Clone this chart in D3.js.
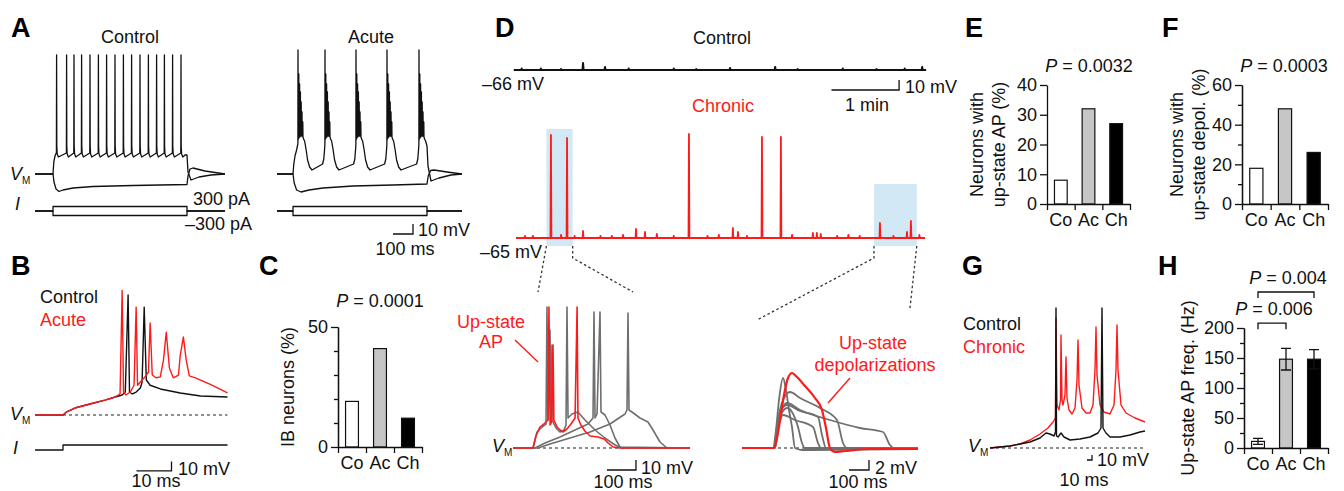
<!DOCTYPE html>
<html>
<head>
<meta charset="utf-8">
<script src="https://cdn.jsdelivr.net/npm/d3@7"></script>
<style>
  body { margin: 0; background: #fff; }
  svg { display: block; font-family: "Liberation Sans", Arial, sans-serif; }
</style>
</head>
<body>
<svg id="fig" width="1344" height="491"></svg>
<script>
// colours
const RED = '#ff1a1a'
const TRACE_GRAY = '#6f6f6f'
const BAR_GRAY = '#c6c6c6'
const ZOOM_BLUE = '#d3e8f5'

// ---------- data ----------
// A: step protocol (ms) and currents (pA)
const aStep = [0, 670]
const aCurrents = [300, -300]
// A control: spike times (ms) and spike waveform (ms offset, mV)
const aCtrlSpikes = [18, 68, 105, 143, 185, 227, 268, 310, 352, 393, 435, 477, 518, 557, 598, 640]
const aSpikeShape = [[-1, -49], [0, 49], [1, -42], [3, -50], [9, -53]]
const aCtrlOnset = [[-90, -70], [0, -70], [4, -58], [10, -52], [16, -49]]
const aCtrlOffset = [[660, -51], [670, -51], [675, -68], [690, -76], [730, -73], [790, -71], [860, -70]]
const aCtrlHyper = [[-90, -70], [0, -70], [5, -78], [15, -85], [30, -87.5], [50, -86], [100, -84], [200, -82.5], [400, -81.5], [670, -80.5], [675, -72], [685, -65], [700, -64], [760, -67], [860, -70]]
// A acute: burst onsets (ms) and burst waveform
const aAcuteBursts = [25, 160, 315, 470, 630]
const aBurstShape = [[-12, -60], [-6, -55], [-2, -45], [-0.5, -40], [0, 54], [1, -36], [4, 30], [5, -34], [8, 20], [9, -33],
  [12, 12], [13, -32], [16, 2], [17, -32], [20, -8], [21, -32], [24, -18], [25, -33], [28, -35], [33, -37], [40, -45],
  [48, -56], [58, -63], [70, -66]]
const aAcuteOnset = [[-80, -70], [0, -70], [4, -60], [10, -52], [18, -46], [23, -41]]
const aAcuteOffset = [[670, -42], [675, -62], [690, -77], [730, -74], [790, -71], [845, -70]]
const aAcuteHyper = [[-80, -70], [0, -70], [6, -79], [18, -86], [40, -88], [80, -86], [150, -84], [300, -82], [500, -81], [670, -80], [676, -72], [688, -66.5], [705, -66], [770, -68], [845, -70]]

// B: first spikes (ms, mV above rest)
const bAcute = [[-8, 0], [0, 0], [0.9, 3], [3.4, 7.5], [7.7, 11.8], [12, 16], [14.9, 19.4], [16.3, 22.6], [16.9, 134], [17.3, 24.7],
  [18, 21.5], [19.2, 24.7], [20.3, 32], [20.9, 116], [21.3, 32], [22.1, 35.5], [23.2, 40], [24.4, 46], [24.9, 99], [25.5, 43],
  [26.6, 40], [27.8, 41], [28.7, 59], [29.5, 89], [30.4, 50.5], [31.5, 40], [33, 43], [33.5, 64.5], [34.4, 84], [35.2, 59],
  [36.1, 42], [37.8, 40], [42.1, 33], [47, 23.7]]
const bControl = [[-8, 0], [0, 0], [0.9, 3], [3.4, 7.5], [7.7, 11.8], [12, 16], [14.9, 19.4], [16.9, 21.5], [17.8, 24.7], [18.6, 129],
  [19, 24.7], [19.8, 22.6], [20.9, 24.7], [22.1, 29], [22.6, 35.5], [23.2, 116], [23.8, 37.6], [24.9, 32], [27.8, 28], [33.5, 23.7],
  [39.3, 20.4], [47, 19.4]]
const bCurrent = [[-8, 0], [0, 0], [0, 200], [47, 200]]

// C, E, F, H bar data
const cats = ['Co', 'Ac', 'Ch']
const barFills = ['#fff', BAR_GRAY, '#000']
const ibNeurons = [19, 41, 12]
const upStateAP = [8, 32, 27]
const upStateDepol = [18, 48, 26]
const upStateFreq = [11, 148, 148]
const upStateFreqErr = [5, 18, 16]

// D: long recordings (s, mV above baseline)
const dCtrlEvents = [[5, 1.5], [22, 1.5], [40, 1], [59.5, 7], [79, 3], [100, 1.5], [140, 1.5], [160, 1], [190, 2], [230, 3], [250, 1], [290, 1.5], [320, 1], [345, 1.5], [360.5, 3]]
const dChronicSpikes = [[31, 103], [45.3, 100], [153.5, 104], [218.3, 101], [235.1, 101]]
const dChronicSmall = [[8, 2], [15, 2], [40, 3], [52, 2], [59.5, 7], [75, 2], [85, 2], [95, 3], [106.5, 9], [114.5, 6], [125, 4],
  [140, 2], [170, 2], [180, 3], [192.5, 10], [197, 6], [205, 2], [245, 3], [263.5, 5], [267, 5], [270.5, 4], [285, 2], [295, 3],
  [305, 2], [323, 15], [335, 2], [347, 6], [350.5, 17], [358, 3]]
const dZoomWindows = [[27, 50.3, 109], [317.7, 355.7, 54]]

// D insets: up-state APs (ms, mV)
const upApRed = [[0, 0], [69, 0], [79, 12], [93, 21], [110, 25], [121, 28], [124, 141], [128, 23], [133, 26], [138, 103], [141, 28],
  [152, 21], [162, 18], [172, 16], [186, 19], [200, 24], [214, 30], [221, 141], [224, 30], [234, 23], [248, 17], [266, 12],
  [293, 11], [314, 9], [328, 5], [345, 1], [369, 0], [610, 0]]
const upApGray = [
  [[0, 0], [69, 0], [82.8, 16], [100, 21], [113.8, 24], [117.2, 141], [120.7, 28], [127.6, 118], [131, 26], [134.5, 103], [137.9, 26],
    [148.3, 20], [162, 16], [175.9, 18], [182.8, 23], [186.2, 141], [189.7, 30], [203.4, 34], [224, 36], [248.3, 28], [282.8, 18],
    [317, 10], [351.7, 3], [375.9, 0], [610, 0]],
  [[0, 0], [75.9, 0], [110.3, 5], [162, 11], [213.8, 18], [258.6, 24], [275.9, 30], [279.3, 136], [282.8, 30], [289.7, 34], [300, 136],
    [303.4, 36], [317.2, 33], [334.5, 23], [351.7, 10], [369, 1], [610, 0]],
  [[0, 0], [86.2, 0], [127.6, 4], [196.6, 10], [265.5, 16], [334.5, 24], [386.2, 34], [393.1, 38], [396.6, 135], [400, 38], [410.3, 36],
    [437.9, 30], [465.5, 26], [482.8, 18], [506.9, 6], [531, 0], [610, 0]]
]
// D insets: up-state depolarizations (ms, mV)
const upDepRed = [[0, 0], [160, 0], [175, 2], [190, 5.6], [210, 10.6], [230, 14], [250, 15], [270, 14.4], [315, 12.4], [365, 10],
  [400, 7.6], [420, 4], [440, 0], [465, -0.8], [515, -0.6], [640, -0.2], [880, -0.2]]
const upDepGray = [
  [[0, 0], [155, 0], [170, 3.6], [185, 9.6], [205, 14], [220, 11.6], [235, 7.6], [250, 4.2], [265, 0], [300, -0.4], [880, -0.2]],
  [[0, 0], [160, 0], [180, 5.6], [205, 9.6], [240, 11.2], [290, 10], [390, 8], [475, 5.6], [505, 1], [525, 0], [880, 0]],
  [[0, 0], [160, 0], [180, 5.6], [205, 8.2], [225, 9], [290, 7.6], [440, 5.6], [590, 4], [705, 3.2], [740, 0.6], [760, 0], [880, 0]],
  [[0, 0], [160, 0], [180, 6], [205, 8.2], [225, 8.6], [290, 7.4], [380, 6.2], [400, 2.6], [420, 0], [880, 0]],
  [[0, 0], [165, 0], [185, 4.6], [205, 6.6], [265, 5.6], [355, 4.2], [380, 1], [395, 0], [880, 0]],
  [[0, 0], [165, 0], [185, 5.6], [225, 8], [250, 7.2], [280, 4.2], [300, 1], [315, 0], [880, 0]]
]

// G: control vs chronic (ms, mV)
const gControl = [[0, 0], [20, 2], [40, 4], [60, 8], [80, 12], [100, 20], [112, 30], [120, 28], [128, 24], [131, 32], [132, 280], [133, 24],
  [136, 22], [142, 30], [148, 22], [160, 16], [180, 18], [200, 22], [216, 30], [222, 40], [224, 280], [226, 40], [232, 30], [240, 22],
  [260, 22], [280, 26], [300, 32], [310, 34]]
const gChronic = [[0, 0], [20, 2], [40, 4], [60, 8], [80, 16], [100, 28], [116, 40], [126, 52], [131, 60], [132, 260], [134, 86], [138, 76],
  [141, 96], [142, 226], [144, 96], [146, 86], [150, 106], [152, 182], [154, 100], [158, 76], [164, 68], [170, 80], [174, 136], [176, 216],
  [178, 126], [184, 80], [192, 70], [200, 70], [206, 86], [210, 156], [212, 242], [214, 146], [220, 86], [228, 72], [240, 68], [248, 86],
  [252, 156], [254, 246], [256, 156], [262, 86], [272, 70], [290, 60], [310, 52]]

// ---------- helpers ----------
const svg = d3.select('#fig')
svg.append('rect').attr('width', 1344).attr('height', 491).attr('fill', '#fff')

function trace(pts, x, y, color, w = 1.3, dash = null, curve = d3.curveLinear) {
  const p = svg.append('path')
    .datum(pts)
    .attr('d', d3.line().x(d => x(d[0])).y(d => y(d[1])).curve(curve))
    .attr('fill', 'none')
    .attr('stroke', color)
    .attr('stroke-width', w)
    .attr('stroke-linejoin', 'round')
  if (dash) p.attr('stroke-dasharray', dash)
  return p
}

function txt(x, y, s, opt = {}) {
  return svg.append('text')
    .attr('x', x).attr('y', y)
    .attr('font-size', opt.size || 18)
    .attr('fill', opt.fill || '#111')
    .attr('text-anchor', opt.anchor || 'start')
    .attr('font-weight', opt.weight || 'normal')
    .text(s)
}

function pText(x, y, val) {
  const t = svg.append('text').attr('x', x).attr('y', y).attr('font-size', 18).attr('fill', '#111').attr('text-anchor', 'middle')
  t.append('tspan').attr('font-style', 'italic').text('P')
  t.append('tspan').text(' = ' + val)
}

function vmLabel(x, y) {
  const t = svg.append('text').attr('x', x).attr('y', y).attr('font-size', 18).attr('fill', '#111')
  t.append('tspan').attr('font-style', 'italic').text('V')
  t.append('tspan').attr('font-size', 10).attr('dy', 4).text('M')
}

// scale bar: corner at (t, v), horizontal length dt, vertical length dv
function scaleBar(x, y, t, v, dt, dv) {
  svg.append('path')
    .attr('d', `M${x(t - dt)},${y(v)}H${x(t)}V${y(v + dv)}`)
    .attr('fill', 'none').attr('stroke', '#111').attr('stroke-width', 1.3)
}

// splice a repeated waveform into a trace
function spikeTrain(onset, times, shape, stopT, offset) {
  const pts = onset.slice()
  times.forEach(ts => shape.forEach(([dt, v]) => {
    const t = ts + dt
    if (t > pts[pts.length - 1][0] && t < stopT) pts.push([t, v])
  }))
  offset.forEach(p => { if (p[0] > pts[pts.length - 1][0]) pts.push(p) })
  return pts
}

// brief events on a flat baseline
function eventTrace(t0, t1, events, halfWidth) {
  const pts = [[t0, 0]]
  events.slice().sort((a, b) => a[0] - b[0]).forEach(([t, a]) => {
    pts.push([t - halfWidth, 0], [t, a], [t + halfWidth, 0])
  })
  pts.push([t1, 0])
  return pts
}

function stepTrace(t0, t1, on, off, amp) {
  return [[t0, 0], [on, 0], [on, amp], [off, amp], [off, 0], [t1, 0]]
}

function styleAxis(g) {
  g.selectAll('.domain, line').attr('stroke', '#111').attr('stroke-width', 1.3)
  g.selectAll('text').attr('font-size', 18).attr('fill', '#111').attr('font-family', '"Liberation Sans", Arial, sans-serif')
}

function barPanel(o) {
  const y = d3.scaleLinear().domain([0, o.max]).range([o.y0, o.y1])
  const x = d3.scaleBand().domain(cats).range([o.x0, o.x0 + o.w]).paddingInner(0.54).paddingOuter(0.27)
  const edges = d3.scaleLinear().domain([0, 3]).range([o.x0, o.x0 + o.w])

  svg.selectAll(null).data(cats).enter().append('rect')
    .attr('x', d => x(d))
    .attr('y', (d, i) => y(o.values[i]))
    .attr('width', x.bandwidth())
    .attr('height', (d, i) => y(0) - y(o.values[i]))
    .attr('fill', (d, i) => barFills[i])
    .attr('stroke', '#111').attr('stroke-width', 1.2)

  if (o.errors) {
    cats.forEach((c, i) => {
      const cx = x(c) + x.bandwidth() / 2
      const lo = y(o.values[i] - o.errors[i]), hi = y(o.values[i] + o.errors[i])
      svg.append('path')
        .attr('d', `M${cx - 5},${lo}H${cx + 5}M${cx},${lo}V${hi}M${cx - 5},${hi}H${cx + 5}`)
        .attr('stroke', '#111').attr('stroke-width', 1.3).attr('fill', 'none')
    })
  }

  if (o.minor) {
    svg.append('g').attr('transform', `translate(${o.x0},0)`)
      .call(d3.axisLeft(y).tickValues(o.minor).tickSize(4).tickFormat('').tickSizeOuter(0))
      .call(styleAxis)
  }
  svg.append('g').attr('transform', `translate(${o.x0},0)`)
    .call(d3.axisLeft(y).tickValues(o.ticks).tickSize(7).tickPadding(3).tickSizeOuter(0))
    .call(styleAxis)
  svg.append('g').attr('transform', `translate(0,${o.y0})`)
    .call(d3.axisBottom(edges).tickValues([0, 1, 2, 3]).tickSize(6).tickFormat('').tickSizeOuter(0))
    .call(styleAxis)

  cats.forEach(c => txt(x(c) + x.bandwidth() / 2, o.y0 + 22, c, { anchor: 'middle' }))

  o.ylabel.forEach(([lx, s]) => {
    svg.append('text')
      .attr('transform', `translate(${lx},${(o.y0 + o.y1) / 2}) rotate(-90)`)
      .attr('text-anchor', 'middle').attr('font-size', 18).attr('fill', '#111')
      .text(s)
  })
  return { x, y }
}

// ---------- panel letters ----------
;[['A', 11, 37], ['B', 11, 275], ['C', 259, 275], ['D', 495, 37], ['E', 965, 37], ['F', 1162, 37], ['G', 962, 275], ['H', 1158, 275]]
  .forEach(([l, x, y]) => txt(x, y, l, { size: 27, weight: 'bold', fill: '#000' }))

// ---------- A ----------
const axCtrl = d3.scaleLinear().domain(aStep).range([53, 187])
const axAcute = d3.scaleLinear().domain(aStep).range([293, 427])
const ayA = d3.scaleLinear().domain([-70, 49]).range([174, 55])
const aiA = d3.scaleLinear().domain([-300, 300]).range([215.5, 206.5])

txt(130, 43, 'Control', { anchor: 'middle' })
txt(371, 43, 'Acute', { anchor: 'middle' })

trace(aCtrlHyper, axCtrl, ayA, '#111', 1.3)
trace(spikeTrain(aCtrlOnset, aCtrlSpikes, aSpikeShape, aStep[1], aCtrlOffset), axCtrl, ayA, '#111', 1.3)
trace(aAcuteHyper, axAcute, ayA, '#111', 1.3)
trace(spikeTrain(aAcuteOnset, aAcuteBursts, aBurstShape, aStep[1] - 3, aAcuteOffset), axAcute, ayA, '#111', 1.3)

aCurrents.forEach(I => {
  trace(stepTrace(-90, 860, aStep[0], aStep[1], I), axCtrl, aiA, '#111', 1.3)
  trace(stepTrace(-80, 845, aStep[0], aStep[1], I), axAcute, aiA, '#111', 1.3)
})

vmLabel(10, 180)
svg.append('text').attr('x', 15).attr('y', 210).attr('font-size', 18).attr('font-style', 'italic').attr('fill', '#111').text('I')
txt(193, 205, '300 pA')
txt(185, 230, '\u2013300 pA')
scaleBar(axAcute, ayA, 600, -130, 100, 10)
txt(418, 236, '10 mV')
txt(405, 255, '100 ms', { anchor: 'middle' })

// ---------- B ----------
const bx = d3.scaleLinear().domain([0, 47]).range([63, 227.5])
const by = d3.scaleLinear().domain([0, 134]).range([415, 290.4])
const bi = d3.scaleLinear().domain([0, 200]).range([450, 445])

txt(40, 303, 'Control')
txt(40, 326, 'Acute', { fill: RED })
trace([[0, 0], [47, 0]], bx, by, '#222', 1.2, '3,3')
trace(bControl, bx, by, '#111', 1.4)
trace(bAcute, bx, by, RED, 1.4)
trace(bCurrent, bx, bi, '#111', 1.3)
vmLabel(10, 420)
svg.append('text').attr('x', 13).attr('y', 454).attr('font-size', 18).attr('font-style', 'italic').attr('fill', '#111').text('I')
scaleBar(bx, by, 31, -60, 10, 10)
txt(178, 475, '10 mV')
txt(156, 487, '10 ms', { anchor: 'middle' })

// ---------- C ----------
barPanel({ x0: 338, w: 84, y0: 447, y1: 327, max: 50, ticks: [0, 50], minor: [10, 20, 30, 40], values: ibNeurons, ylabel: [[294, 'IB neurons (%)']] })
pText(380, 307, '0.0001')

// ---------- D ----------
const dx = d3.scaleLinear().domain([0, 363]).range([516, 925])
const dyC = d3.scaleLinear().domain([0, 10]).range([70, 60])
const dyR = d3.scaleLinear().domain([0, 100]).range([238, 138])

txt(722, 44, 'Control', { anchor: 'middle' })
trace(eventTrace(-2, 364, dCtrlEvents, 0.5), dx, dyC, '#111', 2)
txt(482, 90, '\u201366 mV')
scaleBar(dx, dyC, 340, -20, 60, 10)
txt(905, 93, '10 mV')
txt(867, 111, '1 min', { anchor: 'middle' })

txt(723, 112, 'Chronic', { anchor: 'middle', fill: RED })
dZoomWindows.forEach(([t0, t1, top]) => {
  svg.append('rect')
    .attr('x', dx(t0)).attr('y', dyR(top))
    .attr('width', dx(t1) - dx(t0)).attr('height', dyR(-8) - dyR(top))
    .attr('fill', ZOOM_BLUE)
})
trace(eventTrace(0, 363, dChronicSpikes.concat(dChronicSmall), 0.4), dx, dyR, RED, 1.8)
txt(480, 258, '\u201365 mV')

// dotted zoom guides
const guide = [
  [[dx(27), dyR(-8)], [538, 292]],
  [[dx(50.3), dyR(-8)], [dx(50.3), 258], [633, 292]],
  [[dx(317.7), dyR(-8)], [dx(317.7), 258], [757, 320]],
  [[dx(355.7), dyR(-8)], [910, 308]]
]
guide.forEach(g => svg.append('path').attr('d', d3.line()(g)).attr('fill', 'none')
  .attr('stroke', '#333').attr('stroke-width', 1.3).attr('stroke-dasharray', '2.5,2.5'))

// left inset
const lx = d3.scaleLinear().domain([0, 610]).range([513, 689.9])
const ly = d3.scaleLinear().domain([0, 141]).range([448, 307])
trace([[0, 0], [610, 0]], lx, ly, '#222', 1.2, '3,3')
upApGray.forEach(p => trace(p, lx, ly, TRACE_GRAY, 1.6))
trace(upApRed, lx, ly, RED, 1.6)
vmLabel(492, 452)
txt(491, 328, 'Up-state', { anchor: 'middle', fill: RED })
txt(491, 348, 'AP', { anchor: 'middle', fill: RED })
svg.append('line').attr('x1', 515).attr('y1', 340).attr('x2', 538).attr('y2', 362).attr('stroke', RED).attr('stroke-width', 1.4)
scaleBar(lx, ly, 424, -22, 100, 10)
txt(641, 474, '10 mV')
txt(623, 488, '100 ms', { anchor: 'middle' })

// right inset
const rx = d3.scaleLinear().domain([0, 880]).range([742, 918])
const ry = d3.scaleLinear().domain([0, 15.2]).range([448, 372])
trace([[0, 0], [880, 0]], rx, ry, '#222', 1.2, '3,3')
upDepGray.forEach(p => trace(p, rx, ry, TRACE_GRAY, 1.8, null, d3.curveMonotoneX))
trace(upDepRed, rx, ry, RED, 2.2, null, d3.curveMonotoneX)
txt(873, 349, 'Up-state', { anchor: 'middle', fill: RED })
txt(875, 371, 'depolarizations', { anchor: 'middle', fill: RED })
svg.append('line').attr('x1', 850).attr('y1', 378).attr('x2', 828).attr('y2', 403).attr('stroke', RED).attr('stroke-width', 1.4)
scaleBar(rx, ry, 635, -4.4, 100, 2)
txt(875, 474, '2 mV')
txt(858, 488, '100 ms', { anchor: 'middle' })

// ---------- E ----------
barPanel({ x0: 1047, w: 83, y0: 204, y1: 85, max: 40, ticks: [0, 10, 20, 30, 40], values: upStateAP,
  ylabel: [[983, 'Neurons with'], [1005, 'up-state AP (%)']] })
pText(1089, 72, '0.0032')

// ---------- F ----------
barPanel({ x0: 1242, w: 86, y0: 204, y1: 85, max: 60, ticks: [0, 20, 40, 60], minor: [10, 30, 50], values: upStateDepol,
  ylabel: [[1183, 'Neurons with'], [1205, 'up-state depol. (%)']] })
pText(1284, 72, '0.0003')

// ---------- G ----------
const gx = d3.scaleLinear().domain([0, 310]).range([990, 1145])
const gy = d3.scaleLinear().domain([0, 280]).range([448, 308])
txt(963, 330, 'Control')
txt(963, 353, 'Chronic', { fill: RED })
trace([[0, 0], [310, 0]], gx, gy, '#222', 1.2, '3,3')
trace(gChronic, gx, gy, RED, 1.4)
trace(gControl, gx, gy, '#111', 1.4)
vmLabel(968, 452)
scaleBar(gx, gy, 204, -24, 10, 10)
txt(1097, 466, '10 mV')
txt(1084, 486, '10 ms', { anchor: 'middle' })

// ---------- H ----------
const h = barPanel({ x0: 1244, w: 84, y0: 448, y1: 328, max: 200, ticks: [0, 50, 100, 150, 200], minor: [25, 75, 125, 175],
  values: upStateFreq, errors: upStateFreqErr, ylabel: [[1194, 'Up-state AP freq. (Hz)']] })
const brackets = [['Co', 'Ac', 208, '0.006'], ['Co', 'Ch', 260, '0.004']]
brackets.forEach(([a, b, lvl, p]) => {
  const xa = h.x(a) + h.x.bandwidth() / 2, xb = h.x(b) + h.x.bandwidth() / 2, yl = h.y(lvl)
  svg.append('path').attr('d', `M${xa},${yl + 6}V${yl}H${xb}V${yl + 6}`)
    .attr('fill', 'none').attr('stroke', '#111').attr('stroke-width', 1.3)
  pText((xa + xb) / 2 + 2, yl - 8, p)
})
</script>
</body>
</html>
